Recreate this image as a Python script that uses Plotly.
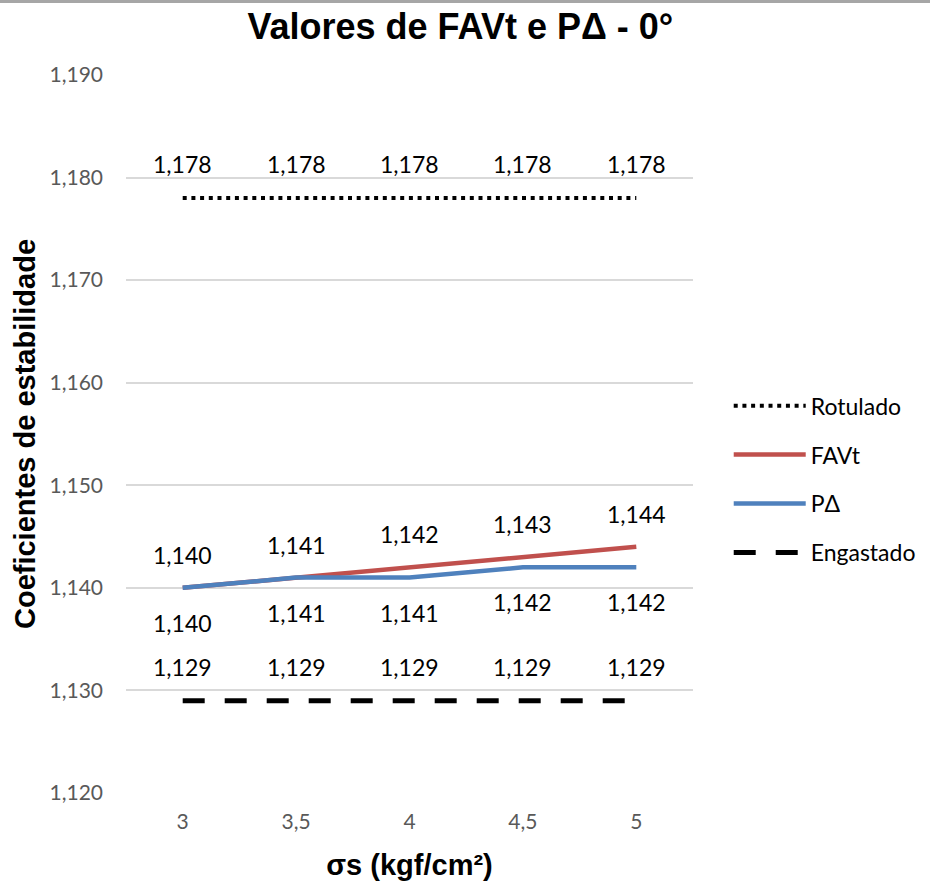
import plotly.graph_objects as go

categories = ["3", "3,5", "4", "4,5", "5"]
rotulado = [1.178, 1.178, 1.178, 1.178, 1.178]
favt = [1.140, 1.141, 1.142, 1.143, 1.144]
pdelta = [1.140, 1.141, 1.141, 1.142, 1.142]
engastado = [1.129, 1.129, 1.129, 1.129, 1.129]
y_ticks = [1.120, 1.130, 1.140, 1.150, 1.160, 1.170, 1.180, 1.190]

def fmt(v):
    return f"{v:.3f}".replace(".", ",")

LBL = "Lato"
fig = go.Figure()
series = [
    ("Rotulado", rotulado, dict(color="#000000", width=4, dash="4px,4.7px"), 34),
    ("FAVt", favt, dict(color="#C0504D", width=4.5), 33),
    ("PΔ", pdelta, dict(color="#4F81BD", width=4.5), -35),
    ("Engastado", engastado, dict(color="#000000", width=5, dash="22px,20px"), 34),
]
for i, (name, vals, line, shift) in enumerate(series):
    fig.add_trace(go.Scatter(x=categories, y=vals, mode="lines", name=name,
                             line=line, legendgroup=f"g{i}"))
    for idx, v in enumerate(vals):
        fig.add_annotation(x=idx, y=v, text=fmt(v), showarrow=False, yshift=shift,
                           font=dict(family=LBL, size=23, color="#000000"))

fig.add_shape(type="line", xref="paper", yref="paper",
              x0=-126/567, x1=(930-126)/567, y0=(793-1.5)/718, y1=(793-1.5)/718,
              line=dict(color="#A6A6A6", width=3))

fig.update_layout(
    width=930, height=881,
    margin=dict(l=126, r=237, t=75, b=88, autoexpand=False),
    paper_bgcolor="white", plot_bgcolor="white",
    separators=",.",
    title=dict(text="<b>Valores de FAVt e PΔ - 0°</b>", xref="container", x=0.495,
               xanchor="center", y=1 - 26/881, yanchor="middle",
               font=dict(family="Liberation Sans", size=36, color="#000000")),
    showlegend=True,
    legend=dict(x=1.063, xanchor="left", y=0.437, yanchor="middle",
                font=dict(family=LBL, size=23, color="#000000"),
                tracegroupgap=16, itemwidth=72, bgcolor="rgba(0,0,0,0)"),
    xaxis=dict(type="category", range=[-0.5, 4.5], showgrid=False, showline=False,
               zeroline=False, ticks="", tickfont=dict(family=LBL, size=21, color="#595959"),
               ticklabelstandoff=14,
               title=dict(text="<b>σs (kgf/cm²)</b>", standoff=22,
                          font=dict(family="Liberation Sans", size=29, color="#000000"))),
    yaxis=dict(range=[1.120, 1.190], tickvals=y_ticks, tickformat=".3f",
               showgrid=True, gridcolor="#D9D9D9", gridwidth=1.5, zeroline=False,
               showline=False, ticks="", ticklabelstandoff=22,
               tickfont=dict(family=LBL, size=21, color="#595959"),
               title=dict(text="<b>Coeficientes de estabilidade</b>", standoff=5,
                          font=dict(family="Liberation Sans", size=29, color="#000000"))),
)
fig.write_html("out.html", config={"displayModeBar": False},
               post_script="document.body.style.margin='0';document.body.style.padding='0';")
